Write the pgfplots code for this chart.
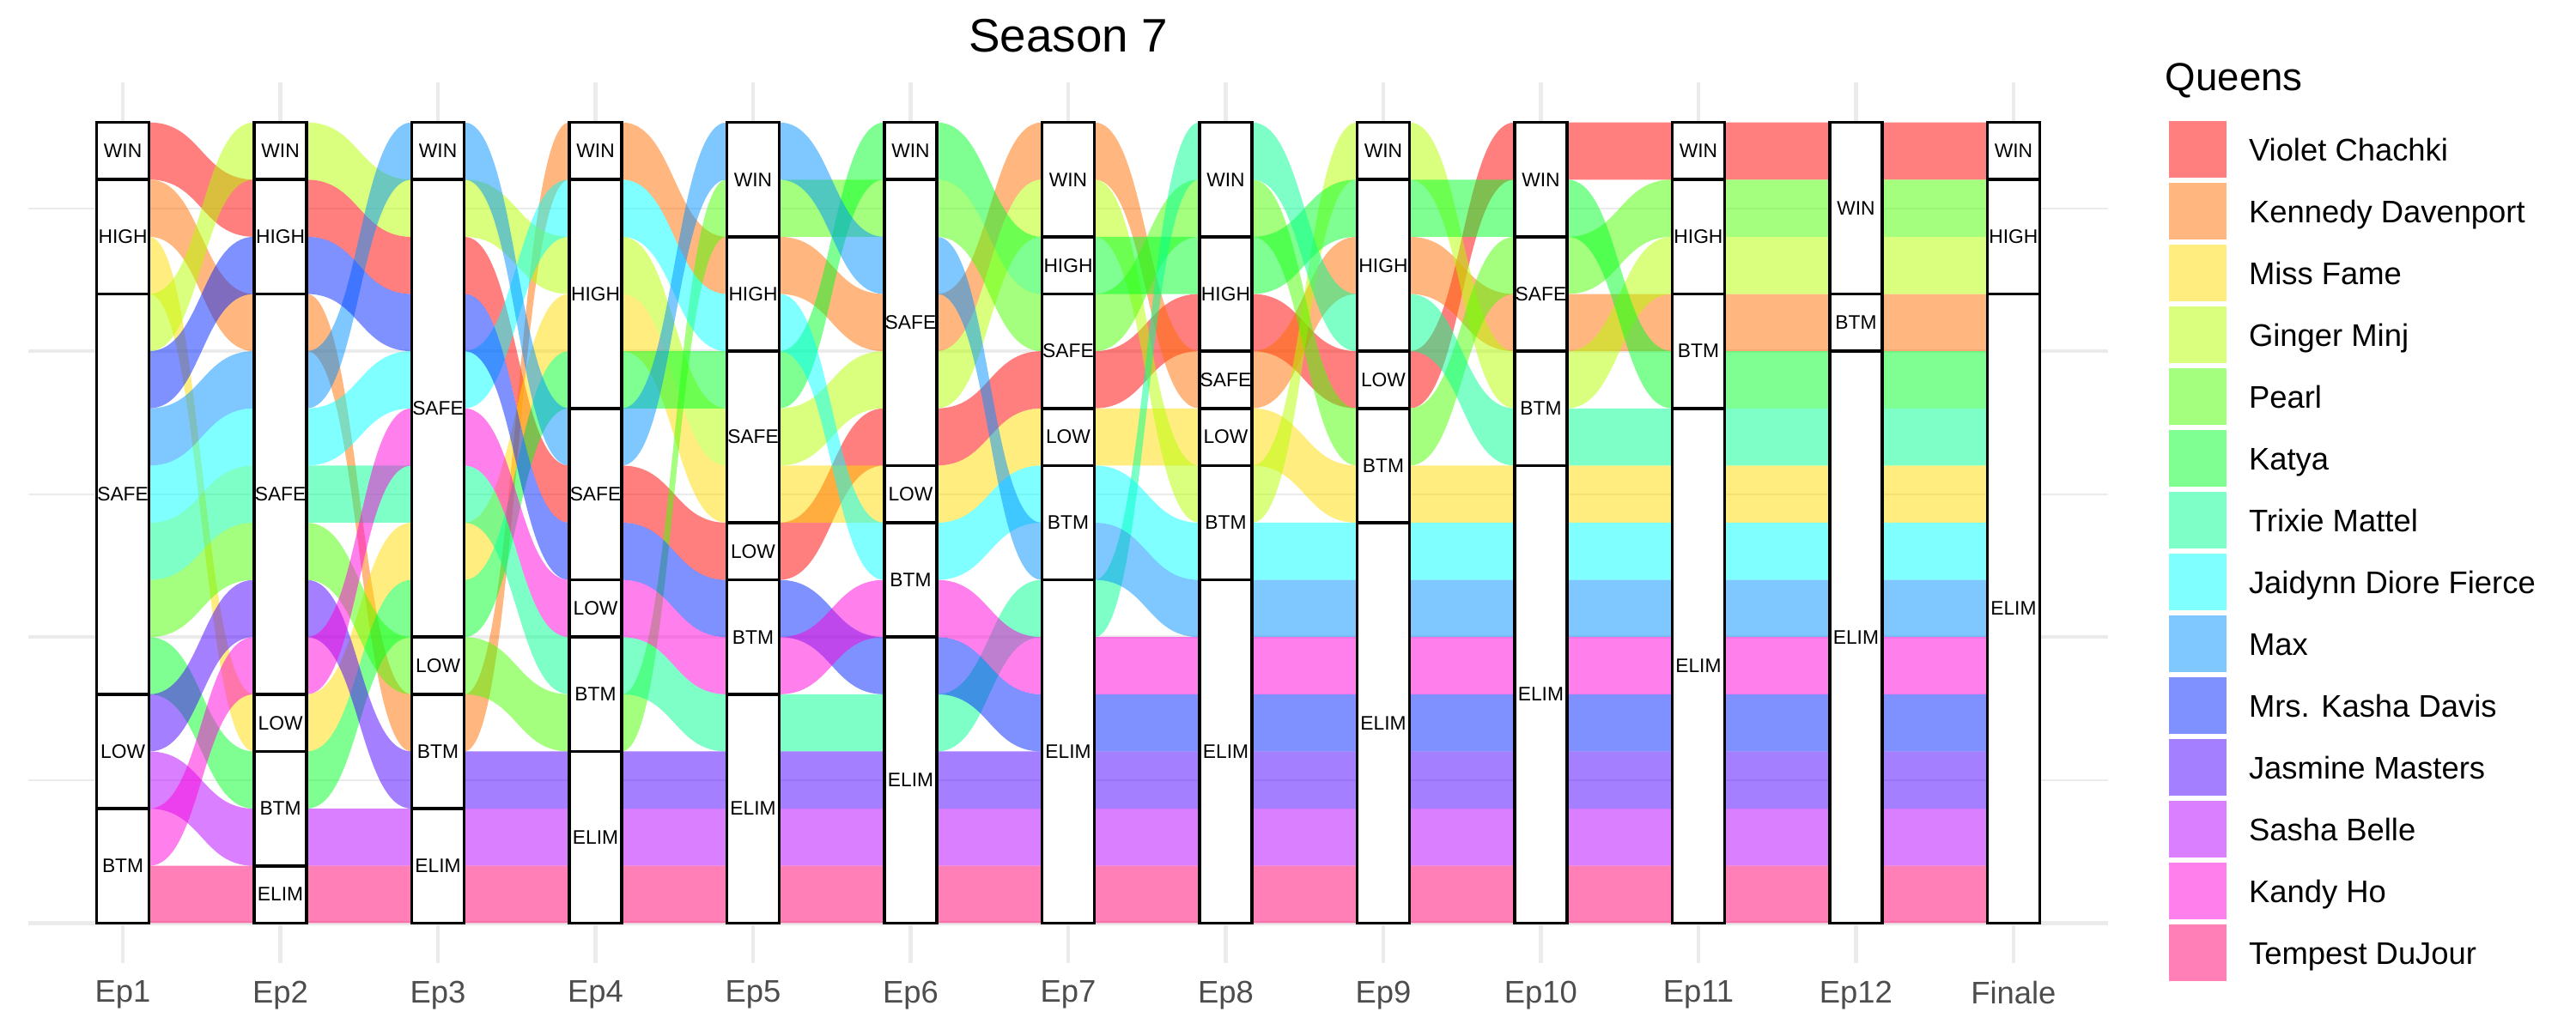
\documentclass[border=0pt]{standalone}
\usepackage{fontspec}
\setmainfont{Liberation Sans}
\usepackage{pgfplots}
\usepackage{pgfplotstable}
\pgfplotsset{compat=1.18}

\definecolor{cViolet}{HTML}{FF0000}
\definecolor{cKennedy}{HTML}{FF6D00}
\definecolor{cMissFame}{HTML}{FFDB00}
\definecolor{cGinger}{HTML}{B6FF00}
\definecolor{cPearl}{HTML}{49FF00}
\definecolor{cKatya}{HTML}{00FF24}
\definecolor{cTrixie}{HTML}{00FF92}
\definecolor{cJaidynn}{HTML}{00FFFF}
\definecolor{cMax}{HTML}{0092FF}
\definecolor{cKasha}{HTML}{0024FF}
\definecolor{cJasmine}{HTML}{4900FF}
\definecolor{cSasha}{HTML}{B600FF}
\definecolor{cKandy}{HTML}{FF00DB}
\definecolor{cTempest}{HTML}{FF006D}
\definecolor{grid92}{HTML}{EBEBEB}
\definecolor{tick30}{HTML}{4D4D4D}

\newcommand\boxfont{\fontsize{5.7}{6}\selectfont}

% slot (0 = top) of each queen in each episode
\pgfplotstableread{
ep Violet Kennedy MissFame Ginger Pearl Katya Trixie Jaidynn Max Kasha Jasmine Sasha Kandy Tempest
1  0 1 2 3 8 9 7 6 5 4 10 11 12 13
2  1 3 10 0 7 11 6 5 4 2 8 12 9 13
3  2 10 7 1 9 8 6 4 0 3 11 12 5 13
4  6 0 3 2 10 4 9 1 5 7 11 12 8 13
5  7 2 6 5 1 4 10 3 0 8 11 12 9 13
6  5 3 6 4 1 0 10 7 2 9 11 12 8 13
7  4 0 5 1 3 2 8 6 7 10 11 12 9 13
8  3 4 5 6 1 2 0 7 8 10 11 12 9 13
9  4 2 6 0 5 1 3 7 8 10 11 12 9 13
10 0 3 6 4 2 1 5 7 8 10 11 12 9 13
11 0 3 6 2 1 4 5 7 8 10 11 12 9 13
12 0 3 6 2 1 4 5 7 8 10 11 12 9 13
13 0 3 6 2 1 4 5 7 8 10 11 12 9 13
}\slots

% strata: episode position, first slot, end slot, label
\pgfplotstableread{
x top bot lab
1 0 1 WIN
1 1 3 HIGH
1 3 10 SAFE
1 10 12 LOW
1 12 14 BTM
2 0 1 WIN
2 1 3 HIGH
2 3 10 SAFE
2 10 11 LOW
2 11 13 BTM
2 13 14 ELIM
3 0 1 WIN
3 1 9 SAFE
3 9 10 LOW
3 10 12 BTM
3 12 14 ELIM
4 0 1 WIN
4 1 5 HIGH
4 5 8 SAFE
4 8 9 LOW
4 9 11 BTM
4 11 14 ELIM
5 0 2 WIN
5 2 4 HIGH
5 4 7 SAFE
5 7 8 LOW
5 8 10 BTM
5 10 14 ELIM
6 0 1 WIN
6 1 6 SAFE
6 6 7 LOW
6 7 9 BTM
6 9 14 ELIM
7 0 2 WIN
7 2 3 HIGH
7 3 5 SAFE
7 5 6 LOW
7 6 8 BTM
7 8 14 ELIM
8 0 2 WIN
8 2 4 HIGH
8 4 5 SAFE
8 5 6 LOW
8 6 8 BTM
8 8 14 ELIM
9 0 1 WIN
9 1 4 HIGH
9 4 5 LOW
9 5 7 BTM
9 7 14 ELIM
10 0 2 WIN
10 2 4 SAFE
10 4 6 BTM
10 6 14 ELIM
11 0 1 WIN
11 1 3 HIGH
11 3 5 BTM
11 5 14 ELIM
12 0 3 WIN
12 3 4 BTM
12 4 14 ELIM
13 0 1 WIN
13 1 3 HIGH
13 3 14 ELIM
}\strata

\begin{document}
\begin{tikzpicture}
\useasboundingbox (0,0) rectangle (750pt,300pt);
\begin{axis}[
  at={(8.25pt,19.5pt)}, anchor=south west,
  scale only axis, width=605.5pt, height=256.5pt,
  xmin=0.4, xmax=13.6, ymin=-0.7, ymax=14.7,
  axis line style={draw=none},
  tick style={draw=none},
  major tick length=0pt, minor tick length=0pt,
  xtick={1,2,3,4,5,6,7,8,9,10,11,12,13},
  xticklabels={Ep1,Ep2,Ep3,Ep4,Ep5,Ep6,Ep7,Ep8,Ep9,Ep10,Ep11,Ep12,Finale},
  ytick={0,5,10}, minor ytick={2.5,7.5,12.5},
  yticklabels={,,},
  grid=both,
  major grid style={draw=grid92, line width=1.07pt},
  minor grid style={draw=grid92, line width=0.53pt},
  xticklabel style={font=\fontsize{9.1}{10}\selectfont, text=tick30, inner sep=0pt, anchor=north, yshift=-5pt},
  legend image code/.code={\fill[#1, draw=none] (0pt,-8.25pt) rectangle (16.75pt,8.25pt);},
  legend cell align=left,
  legend style={at={(1.02932,0.95614)}, anchor=north west, draw=none, fill=none,
    inner sep=0pt, outer sep=0pt, row sep=1.5pt,
    font=\fontsize{9.1}{10}\selectfont,
    nodes={inner sep=0pt, yshift=-0.9pt},
    /tikz/every odd column/.append style={column sep=6.5pt}},
]
\foreach \q in {Violet,Kennedy,MissFame,Ginger,Pearl,Katya,Trixie,Jaidynn,Max,Kasha,Jasmine,Sasha,Kandy,Tempest}{
  \foreach \i in {0,...,11}{
    \pgfmathtruncatemacro\inext{\i+1}
    \pgfplotstablegetelem{\i}{\q}\of\slots
    \pgfmathsetmacro\ta{14-\pgfplotsretval}
    \pgfplotstablegetelem{\inext}{\q}\of\slots
    \pgfmathsetmacro\tb{14-\pgfplotsretval}
    \pgfmathsetmacro\ba{\ta-1}
    \pgfmathsetmacro\bb{\tb-1}
    \pgfmathsetmacro\xa{\i+1+1/6}
    \pgfmathsetmacro\xb{\i+2-1/6}
    \pgfmathsetmacro\xm{\i+1.5}
    \edef\cmd{\noexpand\fill[c\q, fill opacity=0.5] (axis cs:\xa,\ta) .. controls (axis cs:\xm,\ta) and (axis cs:\xm,\tb) .. (axis cs:\xb,\tb) -- (axis cs:\xb,\bb) .. controls (axis cs:\xm,\bb) and (axis cs:\xm,\ba) .. (axis cs:\xa,\ba) -- cycle;}
    \cmd
  }
}
\pgfplotstablegetrowsof{\strata}
\pgfmathtruncatemacro\nstr{\pgfplotsretval-1}
\foreach \r in {0,...,\nstr}{
  \pgfplotstablegetelem{\r}{x}\of\strata \let\sX\pgfplotsretval
  \pgfplotstablegetelem{\r}{top}\of\strata \let\sTop\pgfplotsretval
  \pgfplotstablegetelem{\r}{bot}\of\strata \let\sBot\pgfplotsretval
  \pgfplotstablegetelem{\r}{lab}\of\strata \let\sLab\pgfplotsretval
  \pgfmathsetmacro\xl{\sX-1/6}
  \pgfmathsetmacro\xr{\sX+1/6}
  \pgfmathsetmacro\yt{14-\sTop}
  \pgfmathsetmacro\yb{14-\sBot}
  \pgfmathsetmacro\ym{14-(\sTop+\sBot)/2}
  \edef\cmd{\noexpand\draw[fill=white, draw=black, line width=0.9pt] (axis cs:\xl,\yt) rectangle (axis cs:\xr,\yb); \noexpand\node[font=\noexpand\boxfont, inner sep=0pt] at (axis cs:\sX,\ym) {\sLab};}
  \cmd
}
\addlegendimage{fill=cViolet, fill opacity=0.5}\addlegendentry{Violet Chachki}
\addlegendimage{fill=cKennedy, fill opacity=0.5}\addlegendentry{Kennedy Davenport}
\addlegendimage{fill=cMissFame, fill opacity=0.5}\addlegendentry{Miss Fame}
\addlegendimage{fill=cGinger, fill opacity=0.5}\addlegendentry{Ginger Minj}
\addlegendimage{fill=cPearl, fill opacity=0.5}\addlegendentry{Pearl}
\addlegendimage{fill=cKatya, fill opacity=0.5}\addlegendentry{Katya}
\addlegendimage{fill=cTrixie, fill opacity=0.5}\addlegendentry{Trixie Mattel}
\addlegendimage{fill=cJaidynn, fill opacity=0.5}\addlegendentry{Jaidynn Diore Fierce}
\addlegendimage{fill=cMax, fill opacity=0.5}\addlegendentry{Max}
\addlegendimage{fill=cKasha, fill opacity=0.5}\addlegendentry{Mrs. Kasha Davis}
\addlegendimage{fill=cJasmine, fill opacity=0.5}\addlegendentry{Jasmine Masters}
\addlegendimage{fill=cSasha, fill opacity=0.5}\addlegendentry{Sasha Belle}
\addlegendimage{fill=cKandy, fill opacity=0.5}\addlegendentry{Kandy Ho}
\addlegendimage{fill=cTempest, fill opacity=0.5}\addlegendentry{Tempest DuJour}
\end{axis}
\node[font=\fontsize{13.7}{16}\selectfont, inner sep=0pt] at (311pt,289.5pt) {Season 7};
\node[font=\fontsize{11.4}{13}\selectfont, anchor=west, inner sep=0pt] at (630.25pt,276.5pt) {Queens};
\end{tikzpicture}
\end{document}
